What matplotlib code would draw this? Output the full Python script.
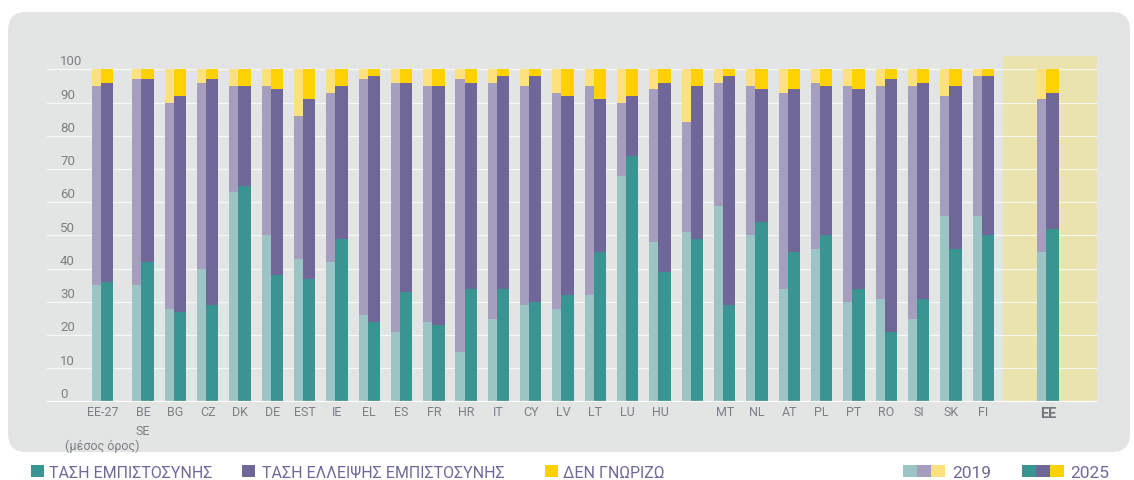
import matplotlib
matplotlib.use("Agg")
import matplotlib.pyplot as plt
from matplotlib.patches import FancyBboxPatch, Rectangle
import matplotlib.transforms as mtransforms

plt.rcParams['font.family'] = ['Roboto', 'DejaVu Sans']

countries = ["EE-27", "BE\nSE", "BG", "CZ", "DK", "DE", "EST", "IE", "EL", "ES", "FR",
             "HR", "IT", "CY", "LV", "LT", "LU", "HU", "", "MT", "NL", "AT", "PL", "PT",
             "RO", "SI", "SK", "FI", "EE"]

# 2019 (lighter bars)
trust_2019 = [35, 35, 28, 40, 63, 50, 43, 42, 26, 21, 24, 15, 25, 29, 28, 32, 68, 48, 51,
              59, 50, 34, 46, 30, 31, 25, 56, 56, 45]
distrust_2019 = [60, 62, 62, 56, 32, 45, 43, 51, 71, 75, 71, 82, 71, 66, 65, 63, 22, 46, 33,
                 37, 45, 59, 50, 65, 64, 70, 36, 42, 46]
dontknow_2019 = [5, 3, 10, 4, 5, 5, 14, 7, 3, 4, 5, 3, 4, 5, 7, 5, 10, 6, 16,
                 4, 5, 7, 4, 5, 5, 5, 8, 2, 9]

# 2025 (darker bars)
trust_2025 = [36, 42, 27, 29, 65, 38, 37, 49, 24, 33, 23, 34, 34, 30, 32, 45, 74, 39, 49,
              29, 54, 45, 50, 34, 21, 31, 46, 50, 52]
distrust_2025 = [60, 55, 65, 68, 30, 56, 54, 46, 74, 63, 72, 62, 64, 68, 60, 46, 18, 57, 46,
                 69, 40, 49, 45, 60, 76, 65, 49, 48, 41]
dontknow_2025 = [4, 3, 8, 3, 5, 6, 9, 5, 2, 4, 5, 4, 2, 2, 8, 9, 8, 4, 5,
                 2, 6, 6, 5, 6, 3, 4, 5, 2, 7]

colors_2019 = ["#9cc4c5", "#a69ebf", "#fde17c"]
colors_2025 = ["#3a9592", "#6f6797", "#ffd100"]
bg_gray = "#e3e5e5"
label_col = "#7b7f86"
legend_col = "#6d6a9a"

fig = plt.figure(figsize=(11.34, 4.8), dpi=100)
fig.patch.set_facecolor("white")

W, H = 1134.0, 480.0
box = FancyBboxPatch((8 / W, 28 / H), 1122 / W, 440 / H,
                     boxstyle="round,pad=0,rounding_size=0.016",
                     transform=fig.transFigure, facecolor=bg_gray, edgecolor="none",
                     mutation_aspect=W / H, zorder=-5)
fig.patches.append(box)

ax = fig.add_axes([47 / W, (H - 401.7) / H, 1050 / W, 345.7 / H])
ax.set_facecolor("none")
for s in ax.spines.values():
    s.set_visible(False)
ax.set_xlim(-1.39, 31.1)
ax.set_ylim(0, 104)
ax.set_xticks([])
ax.set_yticks([])

# highlighted EE block
ax.axvspan(28.2, 31.1, ymin=0, ymax=1, color="#eae3ad", zorder=0, lw=0)

for v in range(10, 101, 10):
    ax.axhline(v, color="white", lw=0.9, alpha=0.7, zorder=1)
ax.axhline(0, color="white", lw=1.6, zorder=4)

ytrans = mtransforms.blended_transform_factory(ax.transAxes, ax.transData)
for v in range(0, 101, 10):
    ax.text(13 / 1050, v + 2.2, str(v), transform=ytrans, ha="left", va="center",
            fontsize=9.5, color=label_col)

x_pos = [0] + [1.25 + i for i in range(27)] + [29.25]
w19 = 0.40
w25 = 0.38
x19 = [p for p in x_pos]
x25 = [p + 0.28 for p in x_pos]

b = [0] * len(x_pos)
for vals, c in zip([trust_2019, distrust_2019, dontknow_2019], colors_2019):
    ax.bar(x19, vals, width=w19, bottom=b, align="edge", color=c, lw=0, zorder=2)
    b = [bi + vi for bi, vi in zip(b, vals)]
b = [0] * len(x_pos)
for vals, c in zip([trust_2025, distrust_2025, dontknow_2025], colors_2025):
    ax.bar(x25, vals, width=w25, bottom=b, align="edge", color=c, lw=0, zorder=3)
    b = [bi + vi for bi, vi in zip(b, vals)]

xtrans = mtransforms.blended_transform_factory(ax.transData, ax.transAxes)
for p, lab in zip(x_pos, countries):
    if lab == "EE":
        ax.text(p + 0.33, -0.014, lab, transform=xtrans, ha="center", va="top",
                fontsize=10.5, fontweight="bold", color="#73777e")
    else:
        ax.text(p + 0.33, -0.012, lab, transform=xtrans, ha="center", va="top",
                fontsize=9, color=label_col, linespacing=1.6)
ax.text(0.33, -0.11, "(μέσος όρος)", transform=xtrans, ha="center", va="top",
        fontsize=9, color=label_col)

# legend
def swatch(x0, col, w=13):
    fig.patches.append(Rectangle((x0 / W, 3 / H), w / W, 12 / H, transform=fig.transFigure,
                                 facecolor=col, edgecolor="none"))

swatch(31, colors_2025[0])
fig.text(49 / W, 2 / H, "ΤΑΣΗ ΕΜΠΙΣΤΟΣΥΝΗΣ", fontsize=11.5, color=legend_col, va="baseline")
swatch(242, colors_2025[1])
fig.text(262 / W, 2 / H, "ΤΑΣΗ ΕΛΛΕΙΨΗΣ ΕΜΠΙΣΤΟΣΥΝΗΣ", fontsize=11.5, color=legend_col, va="baseline")
swatch(545, colors_2025[2])
fig.text(563 / W, 2 / H, "ΔΕΝ ΓΝΩΡΙΖΩ", fontsize=11.5, color=legend_col, va="baseline")

for i, c in enumerate(colors_2019):
    swatch(903 + 14 * i, c, 14)
fig.text(952 / W, 2 / H, "2019", fontsize=12.5, color=legend_col, va="baseline")
for i, c in enumerate(colors_2025):
    swatch(1022 + 14 * i, c, 14)
fig.text(1070 / W, 2 / H, "2025", fontsize=12.5, color=legend_col, va="baseline")

fig.savefig("out.png", dpi=100)
